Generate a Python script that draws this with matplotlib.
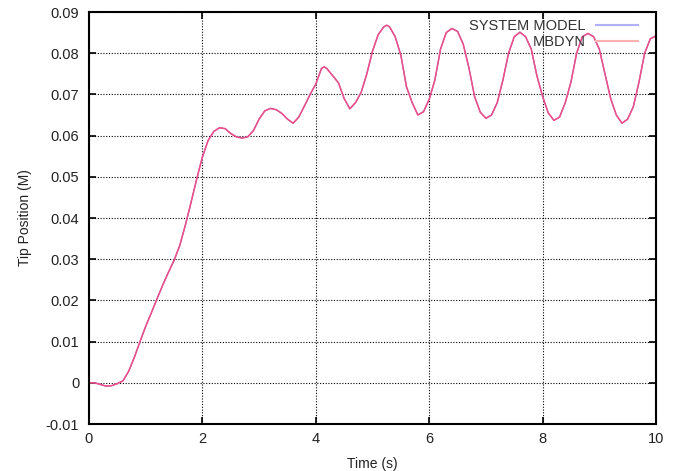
import matplotlib
matplotlib.use("Agg")
import matplotlib.pyplot as plt
from matplotlib.lines import Line2D

plt.rcParams['font.family'] = ['Liberation Sans', 'DejaVu Sans']

time_s = [0.0, 0.1, 0.2, 0.3, 0.4, 0.5, 0.6, 0.7, 0.8, 0.9,
          1.0, 1.1, 1.2, 1.3, 1.4, 1.5, 1.6, 1.7, 1.8, 1.9,
          2.0, 2.1, 2.2, 2.3, 2.4, 2.5, 2.6, 2.7, 2.8, 2.9,
          3.0, 3.1, 3.2, 3.3, 3.4, 3.5, 3.6, 3.7, 3.8, 3.9,
          4.0, 4.1, 4.15, 4.2, 4.3, 4.4, 4.5, 4.6, 4.7, 4.8, 4.9,
          5.0, 5.1, 5.2, 5.25, 5.3, 5.4, 5.5, 5.6, 5.7, 5.8, 5.9,
          6.0, 6.1, 6.2, 6.3, 6.4, 6.5, 6.6, 6.7, 6.8, 6.9,
          7.0, 7.1, 7.2, 7.3, 7.4, 7.5, 7.6, 7.7, 7.8, 7.9,
          8.0, 8.1, 8.2, 8.3, 8.4, 8.5, 8.6, 8.7, 8.8, 8.9,
          9.0, 9.1, 9.2, 9.3, 9.4, 9.5, 9.6, 9.7, 9.8, 9.9, 10.0]

mbdyn = [0.0, 0.0, -0.0004, -0.0008, -0.0007, -0.0002, 0.0005, 0.0028, 0.0062, 0.0100,
         0.0137, 0.0170, 0.0204, 0.0237, 0.0268, 0.0297, 0.0333, 0.0383, 0.0438, 0.0495,
         0.0548, 0.0588, 0.0610, 0.0619, 0.0617, 0.0605, 0.0597, 0.0594, 0.0597, 0.0612,
         0.0640, 0.0660, 0.0666, 0.0663, 0.0654, 0.0640, 0.0630, 0.0645, 0.0672, 0.0700,
         0.0725, 0.0763, 0.0767, 0.0762, 0.0745, 0.0728, 0.0690, 0.0665, 0.0680, 0.0705, 0.0750,
         0.0805, 0.0845, 0.0864, 0.0868, 0.0864, 0.0840, 0.0795, 0.0718, 0.0680, 0.0650, 0.0658,
         0.0688, 0.0735, 0.0810, 0.0850, 0.0860, 0.0853, 0.0822, 0.0765, 0.0695, 0.0657,
         0.0642, 0.0650, 0.0680, 0.0735, 0.0800, 0.0840, 0.0851, 0.0840, 0.0810, 0.0745,
         0.0695, 0.0655, 0.0637, 0.0645, 0.0680, 0.0730, 0.0800, 0.0840, 0.0848, 0.0840,
         0.0810, 0.0750, 0.0690, 0.0650, 0.0630, 0.0640, 0.0670, 0.0730, 0.0800, 0.0835, 0.0842]

system_model = list(mbdyn)

x_ticks = [0, 2, 4, 6, 8, 10]
y_ticks = [-0.01, 0, 0.01, 0.02, 0.03, 0.04, 0.05, 0.06, 0.07, 0.08, 0.09]
y_tick_labels = ['-0.01', '0', '0.01', '0.02', '0.03', '0.04', '0.05', '0.06', '0.07', '0.08', '0.09']

fig = plt.figure(figsize=(6.81, 4.71), dpi=100)
ax = fig.add_axes([89/681, 1-424/471, (656-89)/681, (424-12)/471])

ax.plot(time_s, system_model, color='#c060c0', lw=0.9)
ax.plot(time_s, mbdyn, color='#e8508a', lw=1.1)

ax.set_xlim(0, 10)
ax.set_ylim(-0.01, 0.09)
ax.set_xticks(x_ticks)
ax.set_xticklabels([str(t) for t in x_ticks])
ax.set_yticks(y_ticks)
ax.set_yticklabels(y_tick_labels)

ax.grid(True, color='black', linestyle=(0, (1, 1.5)), linewidth=0.8)
ax.tick_params(direction='in', top=True, right=True, length=5, width=1.2,
               labelsize=10.5, colors='black')
ax.tick_params(axis='y', pad=7)
ax.tick_params(axis='x', pad=6)
for lab in ax.get_xticklabels() + ax.get_yticklabels():
    lab.set_color('#222222')
for sp in ax.spines.values():
    sp.set_linewidth(1.5)
    sp.set_color('black')

ax.set_xlabel('Time (s)', fontsize=10, color='#222222', labelpad=8)
ax.set_ylabel('Tip Position (M)', fontsize=10, color='#222222', labelpad=10)

handles = [Line2D([], [], color='#b0b0ff', lw=1.5), Line2D([], [], color='#ffb0b0', lw=1.5)]
leg = ax.legend(handles, ['SYSTEM MODEL', 'MBDYN'], loc='upper right', frameon=False,
                markerfirst=False, fontsize=10.5, handlelength=2.9, handletextpad=0.7,
                labelspacing=0.12, borderaxespad=0.0, borderpad=0.0,
                bbox_to_anchor=((639-89)/567 - 0.002, 1 - 7/412))
for t in leg.get_texts():
    t.set_color('#333333')

fig.savefig('out.png', dpi=100)
